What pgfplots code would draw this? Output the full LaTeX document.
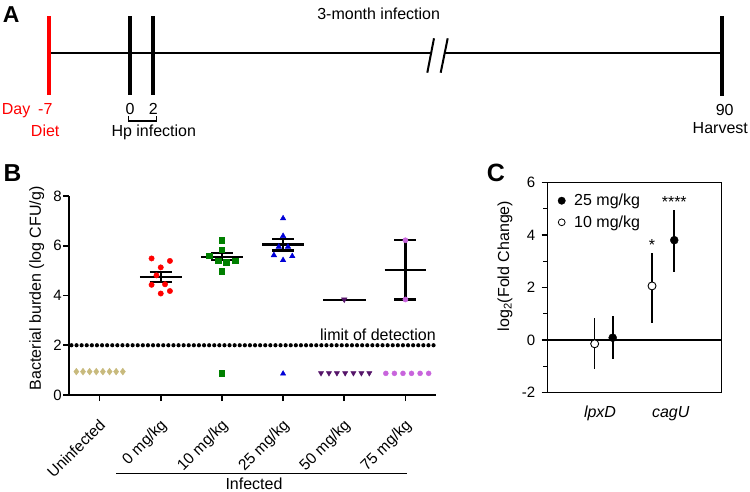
\documentclass[border=0pt]{standalone}
\usepackage{pgfplots}
\pgfplotsset{compat=1.18}
\usepackage{fontspec}
\setmainfont{Liberation Sans}
\definecolor{cgreen}{RGB}{0,128,0}
\definecolor{cblue}{RGB}{0,0,215}
\definecolor{cpurple}{RGB}{85,20,105}
\definecolor{cviolet}{RGB}{200,100,220}
\definecolor{ctan}{RGB}{200,186,125}
\newcommand\fs{\fontsize{16}{19}\selectfont}
\newcommand\fst{\fontsize{15}{18}\selectfont}
\begin{document}
\begin{tikzpicture}
\useasboundingbox (0,0) rectangle (750pt,491pt);
% ---------- overlay (pixel coordinates, y downward) ----------
\begin{axis}[at={(0pt,0pt)}, anchor=south west, scale only axis, width=750pt, height=491pt,
  xmin=0, xmax=750, ymin=0, ymax=491, y dir=reverse, hide axis, clip=false]
% panel A timeline
\addplot[black, line width=2pt] coordinates {(48,53.3) (431.1,53.3)};
\addplot[black, line width=2pt] coordinates {(444.5,53.3) (721.7,53.3)};
\addplot[red, line width=4pt] coordinates {(48.5,16) (48.5,95)};
\addplot[black, line width=4pt] coordinates {(130,16) (130,95)};
\addplot[black, line width=4pt] coordinates {(153.3,16) (153.3,95)};
\addplot[black, line width=4pt] coordinates {(721.7,16) (721.7,95.7)};
\addplot[black, line width=2pt] coordinates {(427.3,72.7) (434,38.3)};
\addplot[black, line width=2pt] coordinates {(440.7,72.7) (447.7,38.3)};
\addplot[black, line width=1.3pt] coordinates {(128.3,116) (128.3,121) (156.7,121) (156.7,116)};
% "Infected" bracket line
\addplot[black, line width=1.5pt] coordinates {(116,473.3) (406.7,473.3)};
% legend of panel C
\addplot[only marks, mark=*, mark size=3.7pt, black] coordinates {(561.7,200.7)};
\addplot[only marks, mark=*, mark size=3.4pt, black, mark options={fill=white, line width=0.8pt}] coordinates {(561.7,222.3)};
% texts
\node[inner sep=0, anchor=base west, font=\fontsize{23}{26}\selectfont\bfseries] at (axis cs:2.7,22.7) {A};
\node[inner sep=0, anchor=base west, font=\fontsize{24.5}{28}\selectfont\bfseries] at (axis cs:3.3,181) {B};
\node[inner sep=0, anchor=base west, font=\fontsize{25}{28}\selectfont\bfseries] at (axis cs:486.7,181.7) {C};
\node[inner sep=0, anchor=base west, font=\fs, text=red] at (axis cs:1.7,114) {Day};
\node[inner sep=0, anchor=base west, font=\fs, text=red] at (axis cs:38,114) {-7};
\node[inner sep=0, anchor=base, font=\fs, text=red] at (axis cs:45.2,136) {Diet};
\node[inner sep=0, anchor=base, font=\fs] at (axis cs:130,114) {0};
\node[inner sep=0, anchor=base, font=\fs] at (axis cs:153.3,114) {2};
\node[inner sep=0, anchor=base, font=\fs] at (axis cs:153.8,136) {Hp infection};
\node[inner sep=0, anchor=base, font=\fs] at (axis cs:378.7,19) {3-month infection};
\node[inner sep=0, anchor=base, font=\fs] at (axis cs:724.7,115) {90};
\node[inner sep=0, anchor=base, font=\fs] at (axis cs:720.3,133.3) {Harvest};
\node[inner sep=0, anchor=base east, font=\fs] at (axis cs:436,340) {limit of detection};
\node[inner sep=0, anchor=base, font=\fs] at (axis cs:254,489) {Infected};
\node[inner sep=0, rotate=90, font=\fs] at (axis cs:36.7,288.3) {Bacterial burden (log CFU/g)};
\node[inner sep=0, rotate=90, font=\fs] at (axis cs:505,266) {log\textsubscript{2}(Fold Change)};
\node[inner sep=0, anchor=base west, font=\fs] at (axis cs:574,205.5) {25 mg/kg};
\node[inner sep=0, anchor=base west, font=\fs] at (axis cs:574,227.3) {10 mg/kg};
\end{axis}
% ---------- panel B ----------
\begin{axis}[at={(69pt,96pt)}, anchor=south west, scale only axis, width=367pt, height=199pt,
  xmin=-0.5, xmax=5.5, ymin=0, ymax=8,
  axis x line*=bottom, axis y line*=left, axis line style={line width=1.6pt, -},
  xtick={0,1,2,3,4,5}, xticklabels={Uninfected,0 mg/kg,10 mg/kg,25 mg/kg,50 mg/kg,75 mg/kg},
  ytick={0,2,4,6,8}, yticklabels={0,2,4,6,8},
  tick align=outside, major tick length=6pt, tick style={black, line width=1.6pt},
  xticklabel style={font=\fontsize{15.5}{18}\selectfont, rotate=45, anchor=north east, inner sep=1pt, xshift=-12pt, yshift=-10pt},
  yticklabel style={font=\fst, inner sep=1pt},
  clip=false]
% limit of detection
\addplot[black, line width=4.2pt, line cap=round, dash pattern=on 0pt off 5.1pt] coordinates {(-0.46,2) (5.46,2)};
% detected values
\addplot[only marks, mark=*, mark size=2.7pt, red] coordinates {
(0.85,5.49) (1.15,5.39) (1.0,5.13) (0.93,4.81) (0.85,4.43) (1.07,4.45) (1.0,4.08) (1.15,4.18)};
\addplot[only marks, mark=square*, mark size=2.7pt, cgreen] coordinates {
(2.0,6.22) (2.0,5.85) (1.79,5.59) (1.94,5.39) (2.07,5.34) (2.22,5.39) (2.0,4.98)};
\addplot[only marks, mark=triangle*, mark size=3.2pt, cblue] coordinates {
(3.0,7.1) (3.0,6.39) (2.93,5.96) (3.08,5.96) (2.85,5.62) (3.15,5.58) (3.0,5.42)};
\addplot[only marks, mark=triangle*, mark size=3.2pt, cpurple, mark options={rotate=180}] coordinates {(4.0,3.84)};
\addplot[only marks, mark=*, mark size=2.6pt, cviolet] coordinates {(5.0,6.22) (5.0,3.84)};
% below detection
\addplot[only marks, mark=diamond*, mark size=3.4pt, ctan] coordinates {
(-0.38,0.94) (-0.271,0.94) (-0.163,0.94) (-0.054,0.94) (0.054,0.94) (0.163,0.94) (0.271,0.94) (0.38,0.94)};
\addplot[only marks, mark=square*, mark size=2.6pt, cgreen] coordinates {(2.0,0.88)};
\addplot[only marks, mark=triangle*, mark size=3pt, cblue] coordinates {(3.0,0.86)};
\addplot[only marks, mark=triangle*, mark size=3pt, cpurple, mark options={rotate=180}] coordinates {
(3.62,0.88) (3.75,0.88) (3.88,0.88) (4.015,0.88) (4.15,0.88) (4.28,0.88) (4.41,0.88)};
\addplot[only marks, mark=*, mark size=2.5pt, cviolet] coordinates {
(4.68,0.87) (4.82,0.87) (4.96,0.87) (5.10,0.87) (5.24,0.87) (5.38,0.87)};
% means and SEM
\addplot[black, line width=2.3pt] coordinates {(0.66,4.75) (1.34,4.75)};
\addplot[black, line width=2.3pt] coordinates {(1,4.55) (1,4.95)};
\addplot[black, line width=2.3pt] coordinates {(0.82,4.55) (1.18,4.55)};
\addplot[black, line width=2.3pt] coordinates {(0.82,4.95) (1.18,4.95)};
\addplot[black, line width=2.3pt] coordinates {(1.66,5.56) (2.34,5.56)};
\addplot[black, line width=2.3pt] coordinates {(2,5.42) (2,5.71)};
\addplot[black, line width=2.3pt] coordinates {(1.82,5.42) (2.18,5.42)};
\addplot[black, line width=2.3pt] coordinates {(1.82,5.71) (2.18,5.71)};
\addplot[black, line width=2.3pt] coordinates {(2.66,6.05) (3.34,6.05)};
\addplot[black, line width=2.3pt] coordinates {(3,5.81) (3,6.27)};
\addplot[black, line width=2.3pt] coordinates {(2.82,5.81) (3.18,5.81)};
\addplot[black, line width=2.3pt] coordinates {(2.82,6.27) (3.18,6.27)};
\addplot[black, line width=2.3pt] coordinates {(3.66,3.83) (4.36,3.83)};
\addplot[black, line width=2.3pt] coordinates {(4.66,5.03) (5.34,5.03)};
\addplot[black, line width=2.3pt] coordinates {(5,3.84) (5,6.22)};
\addplot[black, line width=2.3pt] coordinates {(4.82,3.84) (5.18,3.84)};
\addplot[black, line width=2.3pt] coordinates {(4.82,6.22) (5.18,6.22)};
\end{axis}
% ---------- panel C ----------
\begin{axis}[at={(547.7pt,98.3pt)}, anchor=south west, scale only axis, width=174pt, height=210.4pt,
  xmin=0.056, xmax=2.99, ymin=-2, ymax=6,
  ytick={-2,0,2,4,6}, yticklabels={-2,0,2,4,6}, minor ytick={-1,1,3,5},
  xtick={0.938,2.13}, xticklabels={lpxD,cagU},
  tick pos=left, tick align=outside, major tick length=6pt, minor tick length=4.5pt,
  tick style={black, line width=1.3pt}, xtick style={draw=none},
  axis line style={line width=1.3pt},
  xticklabel style={font=\fs\itshape, yshift=-4pt},
  yticklabel style={font=\fst, xshift=-3pt},
  clip=false]
\addplot[black, line width=1.3pt] coordinates {(0.056,0) (2.99,0)};
\addplot[only marks, mark=*, mark size=4pt, black,
  error bars/.cd, y dir=both, y explicit, error mark=none, error bar style={line width=1.6pt}]
  table[x=x, y=y, y error plus=ep, y error minus=em] {
x y ep em
1.152 0.09 0.83 0.80
2.19 3.80 1.14 1.20
};
\addplot[only marks, mark=*, mark size=4pt, black, mark options={fill=white, line width=0.9pt},
  error bars/.cd, y dir=both, y explicit, error mark=none, error bar style={line width=1.6pt}]
  table[x=x, y=y, y error plus=ep, y error minus=em] {
x y ep em
0.848 -0.14 0.99 0.97
1.815 2.06 1.27 1.40
};
\node[inner sep=0, font=\fs] at (axis cs:1.815,3.63) {*};
\node[inner sep=0, font=\fs] at (axis cs:2.19,5.24) {****};
\end{axis}
\end{tikzpicture}
\end{document}
